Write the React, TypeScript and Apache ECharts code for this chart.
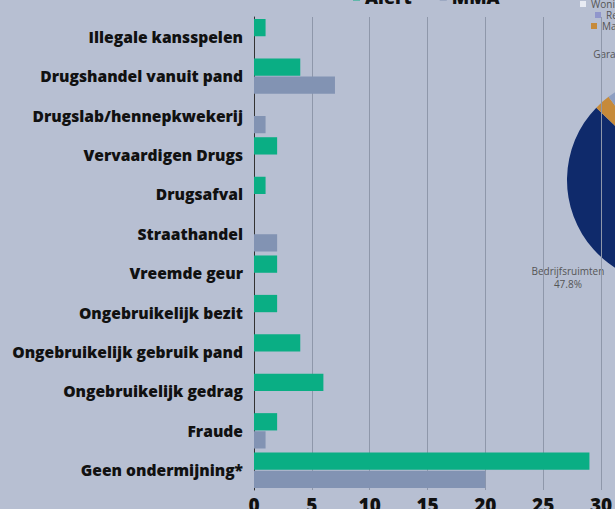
import React, { useEffect, useRef } from "react";
import * as echarts from "echarts";

const categories = [
  "Illegale kansspelen",
  "Drugshandel vanuit pand",
  "Drugslab/hennepkwekerij",
  "Vervaardigen Drugs",
  "Drugsafval",
  "Straathandel",
  "Vreemde geur",
  "Ongebruikelijk bezit",
  "Ongebruikelijk gebruik pand",
  "Ongebruikelijk gedrag",
  "Fraude",
  "Geen ondermijning*",
];
const alertValues = [1, 4, 0, 2, 1, 0, 2, 2, 4, 6, 2, 29];
const mmaValues = [0, 7, 1, 0, 0, 2, 0, 0, 0, 0, 1, 20];

const pieNames = ["Bedrijfsruimten", "Manege", "Garageboxen", "Recreatie", "Woningen"];
const pieValues = [47.8, 2.5, 5, 6.0, 38.7];
const pieColors = ["#0f2a6b", "#c68a3a", "#8d9ec2", "#9096cc", "#e8ebf3"];

const GREEN = "#0aae84";
const GREY = "#8293b3";
const FONT = "'Open Sans', sans-serif";

export default function App() {
  const ref = useRef<HTMLDivElement>(null);
  useEffect(() => {
    if (!ref.current) return;
    const chart = echarts.init(ref.current, null, { renderer: "svg" });
    const smallLegend = (name: string, left: number, top: number) => ({
      data: [name],
      left,
      top,
      itemWidth: 6,
      itemHeight: 6,
      icon: "rect",
      textStyle: { color: "#555", fontSize: 10, fontFamily: FONT },
    });
    chart.setOption({
      animation: false,
      backgroundColor: "#b7bfd2",
      title: {
        text: "Alert en MMA",
        left: 0,
        top: -41,
        textStyle: { color: GREEN, fontSize: 34, fontWeight: 800, fontFamily: FONT },
      },
      legend: [
        {
          data: ["Alert", "MMA"],
          left: 348,
          top: -17,
          itemWidth: 7,
          itemHeight: 7,
          itemGap: 28,
          icon: "rect",
          textStyle: { color: "#111", fontSize: 18, fontWeight: 800, fontFamily: FONT },
        },
        smallLegend("Woningen", 575, -6),
        smallLegend("Recreatie", 590, 5),
        smallLegend("Manege", 586, 16),
      ],
      grid: {
        left: 254,
        right: 14,
        top: 17,
        bottom: 19,
        containLabel: false,
        outerBoundsMode: "none",
      },
      xAxis: {
        type: "value",
        min: 0,
        max: 30,
        interval: 5,
        axisLine: { show: false },
        axisTick: { show: false },
        splitLine: { lineStyle: { color: "#8e97aa", width: 1 } },
        axisLabel: { color: "#111", fontSize: 19, fontWeight: 800, fontFamily: FONT, margin: 5 },
      },
      yAxis: {
        type: "category",
        data: categories,
        inverse: true,
        axisLine: { lineStyle: { color: "#333", width: 1 } },
        axisTick: { show: false },
        axisLabel: { color: "#111", fontSize: 15.6, fontWeight: 800, fontFamily: FONT, margin: 11 },
      },
      series: [
        {
          name: "Alert",
          type: "bar",
          data: alertValues,
          itemStyle: { color: GREEN },
          barGap: "5%",
          barCategoryGap: "10%",
          z: 4,
        },
        {
          name: "MMA",
          type: "bar",
          data: mmaValues,
          itemStyle: { color: GREY },
          z: 4,
        },
        {
          name: "Pand",
          type: "pie",
          center: [671, 180],
          radius: 104,
          startAngle: 308,
          clockwise: true,
          z: -1,
          data: pieNames.map((n, i) => ({
            name: n,
            value: pieValues[i],
            itemStyle: { color: pieColors[i] },
            label: n === "Recreatie" || n === "Manege" ? { show: false } : undefined,
          })),
          label: {
            show: true,
            position: "outside",
            formatter: "{b}\n{d}%",
            color: "#555",
            fontSize: 10,
            fontFamily: FONT,
            lineHeight: 13,
          },
          labelLine: { show: false, length: 36, length2: 0 },
          labelLayout: (p: any) => ({
            align: "center",
            dx: p.dataIndex === 2 ? 24 : 6,
            dy: 4,
          }),
        },
      ],
    });
    return () => chart.dispose();
  }, []);
  return (
    <div
      ref={ref}
      style={{ position: "fixed", left: 0, top: 0, width: 615, height: 509 }}
    />
  );
}
